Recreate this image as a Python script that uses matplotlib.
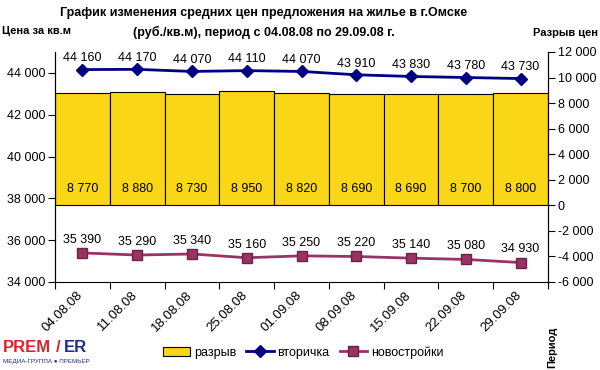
import numpy as np
import matplotlib.pyplot as plt

plt.rcParams['font.family'] = ['Liberation Sans', 'DejaVu Sans']

dates = ['04.08.08', '11.08.08', '18.08.08', '25.08.08', '01.09.08',
         '08.09.08', '15.09.08', '22.09.08', '29.09.08']
secondary = [44160, 44170, 44070, 44110, 44070, 43910, 43830, 43780, 43730]
new_build = [35390, 35290, 35340, 35160, 35250, 35220, 35140, 35080, 34930]
gap = [8770, 8880, 8730, 8950, 8820, 8690, 8690, 8700, 8800]


def fmt(v):
    return f"{v:,}".replace(",", " ")


fig = plt.figure(figsize=(6, 3.7), dpi=100)
ax = fig.add_axes([55 / 600, 1 - 282 / 370, (548 - 55) / 600, (282 - 52) / 370])
ax2 = ax.twinx()
ax.set_zorder(ax2.get_zorder() + 1)
ax.patch.set_visible(False)

x = np.arange(len(dates))

# bars on the right axis
bars = ax2.bar(x, gap, width=1.0, color='#F9D616', edgecolor='black',
               linewidth=0.8, label='разрыв')
for xi, v in zip(x, gap):
    ax2.annotate(fmt(v), (xi, 0), xytext=(0, 12), textcoords='offset points',
                 ha='center', va='center', fontsize=9)

l1, = ax.plot(x, secondary, color='#000080', lw=2, marker='D', ms=6,
              label='вторичка')
l2, = ax.plot(x, new_build, color='#993366', lw=2, marker='s', ms=7,
              mec='#6b2346', label='новостройки')
for xi, v in zip(x, secondary):
    ax.annotate(fmt(v), (xi, v), xytext=(0, 8), textcoords='offset points',
                ha='center', va='center', fontsize=9)
for xi, v in zip(x, new_build):
    ax.annotate(fmt(v), (xi, v), xytext=(0, 9.5), textcoords='offset points',
                ha='center', va='center', fontsize=9)

ax.set_xlim(-0.5, len(dates) - 0.5)
ax.set_ylim(34000, 45000)
ax.set_yticks(np.arange(34000, 44001, 2000))
ax.set_yticklabels([fmt(v) for v in np.arange(34000, 44001, 2000)], fontsize=9)
ax2.set_ylim(-6000, 12000)
ax2.set_yticks(np.arange(-6000, 12001, 2000))
ax2.set_yticklabels([fmt(v) for v in np.arange(-6000, 12001, 2000)], fontsize=9)

# category ticks between categories, labels at centers
ax.set_xticks(np.arange(len(dates) + 1) - 0.5)
ax.set_xticklabels([])
ax.set_xticks(x - 0.1, minor=True)
ax.set_xticklabels(dates, minor=True, rotation=45, ha='right', va='top',
                   rotation_mode='anchor', fontsize=9.5)
ax.tick_params(axis='x', which='minor', length=0, pad=5)
ax.tick_params(axis='x', which='major', length=5, direction='out')
ax.tick_params(axis='y', length=5, direction='out', pad=2)
ax2.tick_params(axis='y', length=5, direction='out', pad=2)

for a in (ax, ax2):
    a.spines['top'].set_visible(False)
ax2.spines['bottom'].set_visible(False)

fig.text(0.44, 0.965, 'График изменения средних цен предложения на жилье в г.Омске',
         ha='center', va='center', fontsize=9, fontweight='bold')
fig.text(0.44, 0.912, '(руб./кв.м), период с 04.08.08 по 29.09.08 г.',
         ha='center', va='center', fontsize=9, fontweight='bold')
fig.text(0.004, 0.915, 'Цена за кв.м', ha='left', va='center', fontsize=8,
         fontweight='bold')
fig.text(0.997, 0.91, 'Разрыв цен', ha='right', va='center', fontsize=8,
         fontweight='bold')
fig.text(0.92, 0.06, 'Период', ha='center', va='center', rotation=90,
         fontsize=8, fontweight='bold')

# logo
fig.text(0.005, 0.06, 'PREM', color='#d7262d', fontsize=12, fontweight='bold',
         ha='left', va='center')
fig.text(0.093, 0.06, '/', color='#d7262d', fontsize=12, fontweight='bold',
         ha='left', va='center')
fig.text(0.107, 0.06, 'ER', color='#1f2f8a', fontsize=12, fontweight='bold',
         ha='left', va='center')
fig.text(0.005, 0.022, 'МЕДИА-ГРУППА ● ПРЕМЬЕР', color='#1f2f8a', fontsize=4.5,
         ha='left', va='center')

fig.legend([bars, l1, l2], ['разрыв', 'вторичка', 'новостройки'],
           loc='center', bbox_to_anchor=(0.505, 0.047), ncol=3, frameon=False,
           fontsize=9, handlelength=2.2, handletextpad=0.3, columnspacing=0.8,
           borderaxespad=0)

fig.savefig('out.png', dpi=100)
